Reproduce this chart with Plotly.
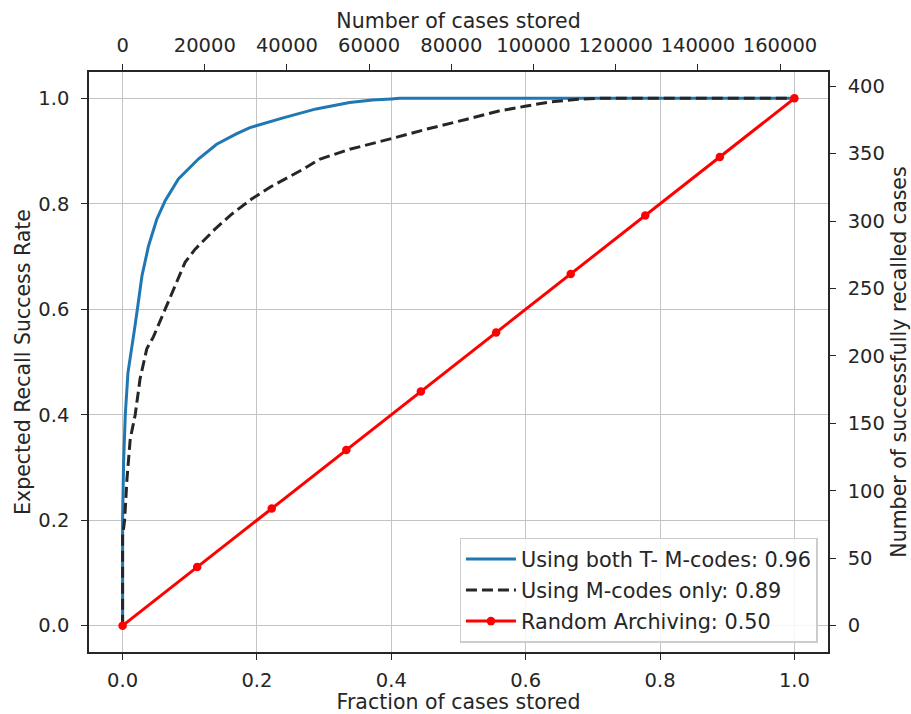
import plotly.graph_objects as go

# Data
both_x = [0, 0.0, 0.0015, 0.004, 0.008, 0.014, 0.0175, 0.0213, 0.0288, 0.0386, 0.051, 0.0634, 0.0831,
          0.1128, 0.14, 0.17, 0.1895, 0.239, 0.288, 0.338, 0.372, 0.4, 0.412, 1.0]
both_y = [0, 0.2, 0.31, 0.40, 0.48, 0.537, 0.56, 0.594, 0.663, 0.720, 0.771, 0.806, 0.847,
          0.885, 0.913, 0.933, 0.9445, 0.963, 0.980, 0.992, 0.997, 0.999, 1.0, 1.0]

monly_x = [0, 0.0, 0.003, 0.0065, 0.0114, 0.0188, 0.026, 0.036, 0.046, 0.0634, 0.078, 0.093, 0.108,
           0.1375, 0.162, 0.192, 0.22, 0.2686, 0.293, 0.338, 0.4, 0.4516, 0.511, 0.560, 0.599,
           0.635, 0.674, 0.704, 1.0]
monly_y = [0, 0.17, 0.2, 0.278, 0.354, 0.40, 0.468, 0.525, 0.548, 0.600, 0.645, 0.689, 0.714,
           0.752, 0.780, 0.809, 0.832, 0.8655, 0.8845, 0.9034, 0.9236, 0.9413, 0.960, 0.976, 0.985,
           0.993, 0.998, 1.0, 1.0]

random_x = [0, 0.111, 0.222, 0.333, 0.444, 0.556, 0.667, 0.778, 0.889, 1.0]
random_y = [0, 0.111, 0.222, 0.333, 0.444, 0.556, 0.667, 0.778, 0.889, 1.0]

total_cases = 163500
total_recalled = 391

frac_ticks = [0, 0.2, 0.4, 0.6, 0.8, 1.0]
frac_labels = ["0.0", "0.2", "0.4", "0.6", "0.8", "1.0"]
cases_ticks = [0, 20000, 40000, 60000, 80000, 100000, 120000, 140000, 160000]
recalled_ticks = [0, 50, 100, 150, 200, 250, 300, 350, 400]

labels = ["Using both T- M-codes: 0.96", "Using M-codes only: 0.89", "Random Archiving: 0.50"]

FONT = "DejaVu Sans"
TXT = "#262626"
TICK_SIZE = 19.5
TITLE_SIZE = 20.5

fig = go.Figure()
fig.add_trace(go.Scatter(x=both_x, y=both_y, mode="lines", name=labels[0], legendgroup="a",
                         line=dict(color="#1f77b4", width=3)))
fig.add_trace(go.Scatter(x=monly_x, y=monly_y, mode="lines", name=labels[1], legendgroup="b",
                         line=dict(color="#262626", width=3, dash="11px,5px")))
fig.add_trace(go.Scatter(x=random_x, y=random_y, mode="lines+markers", name=labels[2], legendgroup="c",
                         line=dict(color="#ff0000", width=3),
                         marker=dict(color="#ff0000", size=8.5)))
# invisible helper trace for secondary axes
fig.add_trace(go.Scatter(x=[v * total_cases for v in random_x],
                         y=[v * total_recalled for v in random_y],
                         xaxis="x2", yaxis="y2", mode="markers",
                         marker=dict(opacity=0), showlegend=False, hoverinfo="skip"))

def common():
    return dict(showline=True, linecolor=TXT, linewidth=1.6, ticks="outside",
                ticklen=6, tickwidth=1.3, tickcolor=TXT, zeroline=False, automargin=False,
                tickfont=dict(family=FONT, size=TICK_SIZE, color=TXT))

def ttl(text, standoff):
    return dict(text=text, font=dict(family=FONT, size=TITLE_SIZE, color=TXT), standoff=standoff)

fig.update_layout(
    width=911, height=714,
    margin=dict(l=89, r=83, t=72, b=62, pad=0),
    paper_bgcolor="white", plot_bgcolor="white",
    font=dict(family=FONT, color=TXT),
    xaxis=dict(range=[-0.05, 1.05], tickvals=frac_ticks, ticktext=frac_labels,
               showgrid=True, gridcolor="#c4c4c4", gridwidth=1.3, mirror=True,
               title=ttl("Fraction of cases stored", 9), ticklabelstandoff=4, **common()),
    yaxis=dict(range=[-0.05, 1.05], tickvals=frac_ticks, ticktext=frac_labels,
               showgrid=True, gridcolor="#c4c4c4", gridwidth=1.3, mirror=True,
               title=ttl("Expected Recall Success Rate", 2), ticklabelstandoff=8, **common()),
    xaxis2=dict(range=[-0.05 * total_cases, 1.05 * total_cases], overlaying="x", side="top",
                anchor="y", tickvals=cases_ticks, ticktext=[str(v) for v in cases_ticks],
                showgrid=False, title=ttl("Number of cases stored", 0), ticklabelstandoff=4, **common()),
    yaxis2=dict(range=[-0.05 * total_recalled, 1.05 * total_recalled], overlaying="y", side="right",
                anchor="x", tickvals=recalled_ticks, showgrid=False,
                title=ttl("Number of successfully recalled cases", 10), ticklabelstandoff=8, **common()),
    legend=dict(x=0.986, y=0.016, xanchor="right", yanchor="bottom",
                bgcolor="rgba(255,255,255,0.85)", bordercolor="#cccccc", borderwidth=1.3,
                font=dict(family=FONT, size=20.8, color=TXT), tracegroupgap=1, itemwidth=50),
    showlegend=True,
)

fig.write_html("out.html", config={"displayModeBar": False},
               post_script="document.body.style.margin='0px';document.body.style.padding='0px';")
